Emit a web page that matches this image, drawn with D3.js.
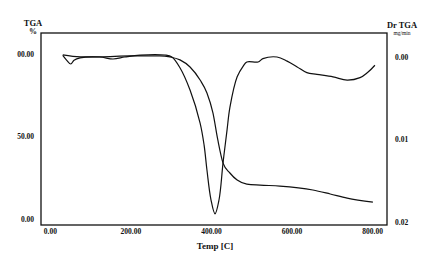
<!DOCTYPE html>
<html><head><meta charset="utf-8">
<script src="https://cdn.jsdelivr.net/npm/d3@7"></script>
<style>body{margin:0;background:#fff}svg{display:block}text{font-family:"Liberation Serif","Times New Roman",serif;font-weight:bold;fill:#111}</style>
</head><body><svg id="c" width="427" height="267"></svg>
<script>
const tgaTemp = [32,75,124,199,273,298,323,348,373,390,405,417,430,447,465,489,522,571,653,696,738,802];
const tgaPct  = [99.4,98.2,98.2,98.8,98.8,98.2,96.4,92.1,84.2,76.4,64.2,47.9,33.9,27.9,23.6,21.2,20.6,20.0,17.6,15.2,12.7,10.3];
const dtgTemp = [32,42,52,60,75,124,157,186,224,286,303,323,348,373,383,390,400,410,420,430,440,447,465,480,489,517,529,564,589,614,638,663,703,738,770,788,807];
const dtgVal  = [-0.0002,0.0004,0.00085,0.0004,0.0001,0,0.00024,0,-0.00024,-0.00024,0,0.0013,0.0040,0.0080,0.0107,0.0137,0.0173,0.0190,0.0173,0.0128,0.0088,0.0061,0.0024,0.0011,0.0006,0.0006,0.0002,0,0.0005,0.0012,0.0019,0.0021,0.0024,0.0028,0.0025,0.0019,0.0010];
const xTicks = [0,200,400,600,800];
const xTickLabels = ["0.00","200.00","400.00","600.00","800.00"];
const yLeftTicks = [0,50,100];
const yLeftLabels = ["0.00","50.00","00.00"];
const yRightTicks = [0,0.01,0.02];
const yRightLabels = ["0.00","0.01","0.02"];

const svg = d3.select("#c");
const L=41,R=387,T=33,B=225;
const x = d3.scaleLinear().domain([-22,837]).range([L,R]);
const yL = d3.scaleLinear().domain([-3.6,112.7]).range([B,T]);
const yR = d3.scaleLinear().domain([-0.00291,0.02036]).range([T,B]);

svg.append("rect").attr("x",L).attr("y",T).attr("width",R-L).attr("height",B-T)
  .attr("fill","none").attr("stroke","#111").attr("stroke-width",1.3);

const ax = svg.append("g").attr("transform",`translate(0,${B+1})`)
  .call(d3.axisBottom(x).tickValues(xTicks).tickSize(0).tickFormat((d,i)=>xTickLabels[i]));
const al = svg.append("g").attr("transform",`translate(${L-4},0)`)
  .call(d3.axisLeft(yL).tickValues(yLeftTicks).tickSize(0).tickFormat((d,i)=>yLeftLabels[i]));
const ar = svg.append("g").attr("transform",`translate(${R+5},0)`)
  .call(d3.axisRight(yR).tickValues(yRightTicks).tickSize(0).tickFormat((d,i)=>yRightLabels[i]));
[ax,al,ar].forEach(g=>{g.select(".domain").remove();g.attr("font-family",null).attr("font-size",null);g.selectAll("text").attr("fill","#111").style("font-size","7.5px").style("font-family","'Liberation Serif',serif").style("font-weight","bold");});

svg.append("text").attr("x",33).attr("y",26).attr("text-anchor","middle").attr("font-size",8.5).text("TGA");
svg.append("text").attr("x",33).attr("y",34).attr("text-anchor","middle").attr("font-size",8).text("%");
svg.append("text").attr("x",402).attr("y",28).attr("text-anchor","middle").attr("font-size",8.5).text("Dr TGA");
svg.append("text").attr("x",402).attr("y",35).attr("text-anchor","middle").attr("font-size",5.5).style("font-weight","normal").text("mg/min");
svg.append("text").attr("x",x(410)).attr("y",249).attr("text-anchor","middle").attr("font-size",9).text("Temp [C]");

const lineT = d3.line().x((d,i)=>x(tgaTemp[i])).y(d=>yL(d)).curve(d3.curveMonotoneX);
const lineD = d3.line().x((d,i)=>x(dtgTemp[i])).y(d=>yR(d)).curve(d3.curveCatmullRom.alpha(0.5));
svg.append("path").datum(tgaPct).attr("d",lineT).attr("fill","none").attr("stroke","#111").attr("stroke-width",1.2);
svg.append("path").datum(dtgVal).attr("d",lineD).attr("fill","none").attr("stroke","#111").attr("stroke-width",1.2);
</script></body></html>
